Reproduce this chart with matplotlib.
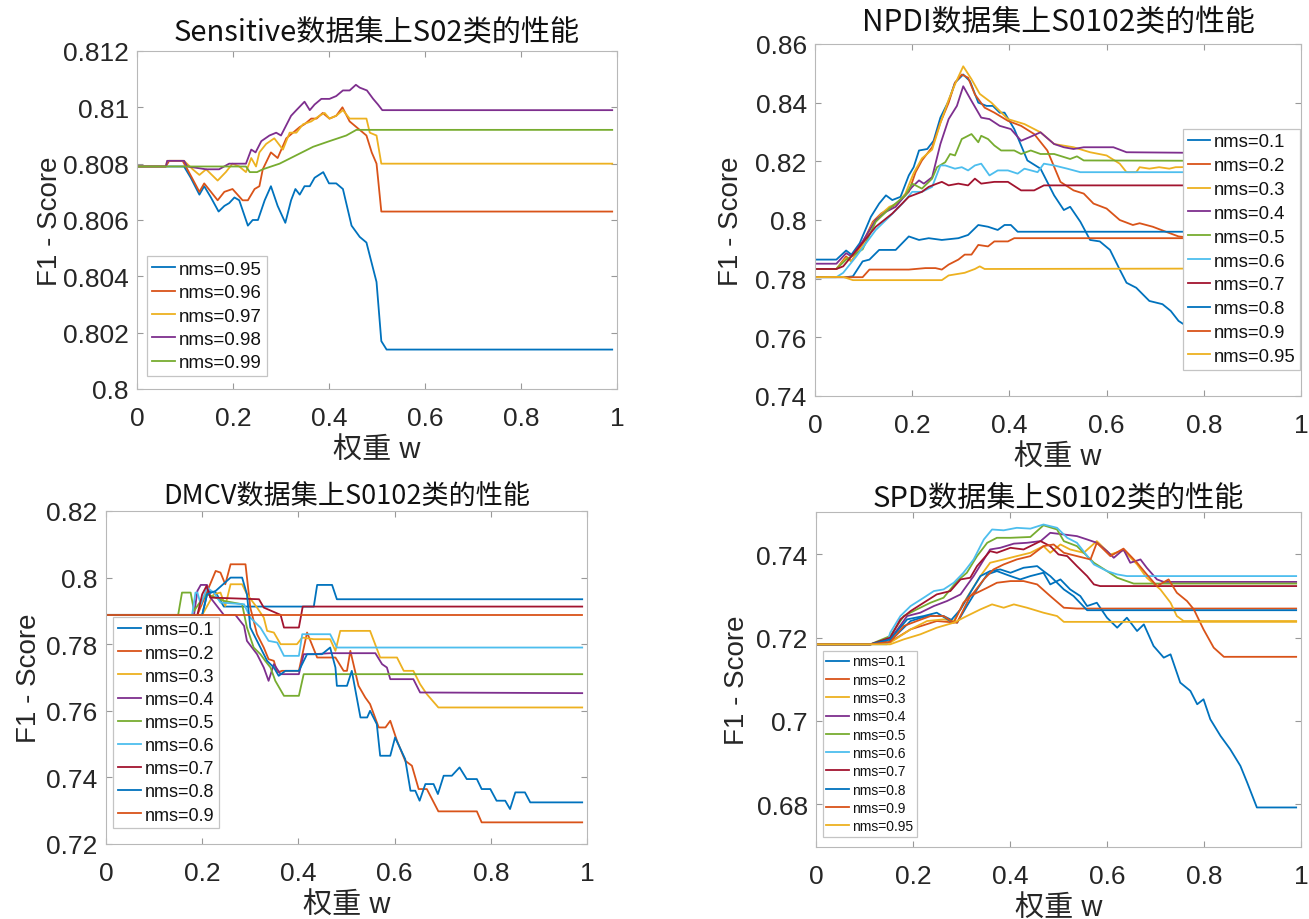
import matplotlib
matplotlib.use('Agg')
import matplotlib.pyplot as plt
from matplotlib.ticker import FuncFormatter

plt.rcParams['font.family'] = ['Liberation Sans', 'Noto Sans CJK SC']

# ---------------- data ----------------
TITLES = ['Sensitive数据集上S02类的性能', 'NPDI数据集上S0102类的性能',
          'DMCV数据集上S0102类的性能', 'SPD数据集上S0102类的性能']
XLABEL = '权重 w'
YLABEL = 'F1 - Score'
X_TICKS = [0, 0.2, 0.4, 0.6, 0.8, 1]

# --- Sensitive, S02 ---
S1_LABELS = ['nms=0.95', 'nms=0.96', 'nms=0.97', 'nms=0.98', 'nms=0.99']
S1_YTICKS = [0.8, 0.802, 0.804, 0.806, 0.808, 0.81, 0.812]
S1_095 = [(0, 0.8079), (0.098, 0.8079), (0.112, 0.8075), (0.13, 0.8069), (0.14, 0.8072), (0.154, 0.8068),
          (0.17, 0.8063), (0.182, 0.8065), (0.192, 0.8066), (0.203, 0.8068), (0.213, 0.8067), (0.231, 0.8058),
          (0.241, 0.8060), (0.252, 0.8060), (0.266, 0.8067), (0.279, 0.8072), (0.293, 0.8065), (0.309, 0.8059),
          (0.321, 0.8067), (0.33, 0.8071), (0.339, 0.8069), (0.349, 0.8072), (0.36, 0.8072), (0.37, 0.8075),
          (0.388, 0.8077), (0.40, 0.8073), (0.415, 0.8073), (0.429, 0.8071), (0.447, 0.8058), (0.464, 0.8054),
          (0.478, 0.8052), (0.499, 0.8038), (0.509, 0.8017), (0.52, 0.8014), (0.99, 0.8014)]
S1_096 = [(0, 0.8079), (0.06, 0.8079), (0.067, 0.8081), (0.095, 0.8081), (0.105, 0.8078), (0.13, 0.8070),
          (0.14, 0.8073), (0.154, 0.8070), (0.168, 0.8067), (0.182, 0.8070), (0.199, 0.8071), (0.22, 0.8067),
          (0.231, 0.8067), (0.245, 0.8071), (0.255, 0.8072), (0.262, 0.8078), (0.279, 0.8084), (0.293, 0.8082),
          (0.311, 0.8089), (0.325, 0.8091), (0.339, 0.8093), (0.349, 0.8094), (0.363, 0.8096), (0.374, 0.8096),
          (0.387, 0.8098), (0.401, 0.8096), (0.415, 0.8097), (0.428, 0.8100), (0.443, 0.8095), (0.464, 0.8092),
          (0.478, 0.8090), (0.489, 0.8084), (0.499, 0.8080), (0.502, 0.8075), (0.509, 0.8063), (0.99, 0.8063)]
S1_097 = [(0, 0.8079), (0.06, 0.8079), (0.063, 0.8081), (0.098, 0.8081), (0.116, 0.8078), (0.13, 0.8076),
          (0.144, 0.8078), (0.168, 0.8074), (0.185, 0.8077), (0.199, 0.8080), (0.213, 0.8079), (0.227, 0.8077),
          (0.238, 0.8082), (0.248, 0.8079), (0.255, 0.8084), (0.269, 0.8087), (0.286, 0.8089), (0.304, 0.8085),
          (0.318, 0.8091), (0.332, 0.8091), (0.346, 0.8094), (0.363, 0.8095), (0.38, 0.8097), (0.391, 0.8098),
          (0.401, 0.8096), (0.415, 0.8097), (0.429, 0.8099), (0.443, 0.8096), (0.478, 0.8096), (0.485, 0.8091),
          (0.499, 0.8090), (0.509, 0.8080), (0.99, 0.8080)]
S1_098 = [(0, 0.8079), (0.06, 0.8079), (0.063, 0.8081), (0.098, 0.8081), (0.105, 0.8079), (0.144, 0.8078),
          (0.171, 0.8078), (0.192, 0.8080), (0.227, 0.8080), (0.238, 0.8085), (0.247, 0.8084), (0.259, 0.8088),
          (0.276, 0.8090), (0.29, 0.8091), (0.30, 0.8090), (0.321, 0.8097), (0.332, 0.8099), (0.349, 0.8102),
          (0.36, 0.8099), (0.37, 0.8101), (0.384, 0.8103), (0.401, 0.8103), (0.415, 0.8104), (0.429, 0.8106),
          (0.443, 0.8106), (0.456, 0.8108), (0.464, 0.8107), (0.479, 0.8106), (0.492, 0.8103), (0.502, 0.8101),
          (0.511, 0.8099), (0.99, 0.8099)]
S1_099 = [(0, 0.8079), (0.227, 0.8079), (0.235, 0.8077), (0.25, 0.8077), (0.262, 0.8078), (0.297, 0.8080),
          (0.332, 0.8083), (0.367, 0.8086), (0.401, 0.8088), (0.436, 0.8090), (0.457, 0.8092), (0.99, 0.8092)]

# --- NPDI, S0102 ---
S2_LABELS = ['nms=0.1', 'nms=0.2', 'nms=0.3', 'nms=0.4', 'nms=0.5',
             'nms=0.6', 'nms=0.7', 'nms=0.8', 'nms=0.9', 'nms=0.95']
S2_YTICKS = [0.74, 0.76, 0.78, 0.8, 0.82, 0.84, 0.86]
S2_01 = [(0, 0.7865), (0.044, 0.7865), (0.064, 0.7896), (0.075, 0.7882), (0.092, 0.7921), (0.115, 0.8011),
         (0.132, 0.8056), (0.146, 0.8084), (0.159, 0.8068), (0.176, 0.8079), (0.193, 0.8152), (0.203, 0.8180),
         (0.214, 0.8237), (0.231, 0.8242), (0.244, 0.8270), (0.258, 0.8349), (0.275, 0.8406), (0.288, 0.8468),
         (0.305, 0.8496), (0.319, 0.8473), (0.336, 0.8400), (0.353, 0.8389), (0.366, 0.8389), (0.38, 0.8366),
         (0.39, 0.8366), (0.41, 0.8310), (0.437, 0.8203), (0.464, 0.8175), (0.492, 0.8084), (0.512, 0.8034),
         (0.525, 0.8045), (0.546, 0.7994), (0.566, 0.7932), (0.586, 0.7927), (0.607, 0.7898), (0.627, 0.7831),
         (0.641, 0.7786), (0.661, 0.7769), (0.688, 0.7724), (0.715, 0.7713), (0.732, 0.7690), (0.748, 0.7656),
         (0.80, 0.7600), (0.85, 0.7567), (0.99, 0.7567)]
S2_02 = [(0, 0.7833), (0.044, 0.7833), (0.064, 0.7876), (0.075, 0.7859), (0.098, 0.7921), (0.119, 0.7994),
         (0.136, 0.8022), (0.153, 0.8039), (0.169, 0.8056), (0.193, 0.8096), (0.207, 0.8163), (0.22, 0.8203),
         (0.241, 0.8248), (0.258, 0.8332), (0.275, 0.8400), (0.288, 0.8468), (0.302, 0.8496), (0.315, 0.8485),
         (0.329, 0.8428), (0.349, 0.8383), (0.369, 0.8366), (0.397, 0.8338), (0.424, 0.8321), (0.451, 0.8293),
         (0.478, 0.8237), (0.505, 0.8130), (0.532, 0.8101), (0.553, 0.8090), (0.573, 0.8056), (0.60, 0.8039),
         (0.627, 0.8000), (0.654, 0.7983), (0.668, 0.7989), (0.695, 0.7977), (0.722, 0.7960), (0.748, 0.7944),
         (0.80, 0.7935), (0.99, 0.7935)]
S2_03 = [(0, 0.7833), (0.044, 0.7833), (0.064, 0.7870), (0.075, 0.7859), (0.098, 0.7915), (0.119, 0.7989),
         (0.136, 0.8020), (0.153, 0.8045), (0.169, 0.8056), (0.186, 0.8090), (0.203, 0.8160), (0.22, 0.8210),
         (0.241, 0.8240), (0.258, 0.8330), (0.275, 0.8410), (0.29, 0.8470), (0.305, 0.8524), (0.322, 0.8480),
         (0.339, 0.8430), (0.363, 0.8400), (0.397, 0.8344), (0.431, 0.8327), (0.464, 0.8299), (0.492, 0.8259),
         (0.532, 0.8248), (0.566, 0.8231), (0.60, 0.8220), (0.627, 0.8192), (0.641, 0.8163), (0.661, 0.8163),
         (0.668, 0.8180), (0.688, 0.8175), (0.708, 0.8180), (0.729, 0.8175), (0.742, 0.8180), (0.99, 0.8184)]
S2_04 = [(0, 0.7851), (0.044, 0.7851), (0.064, 0.7887), (0.075, 0.7876), (0.098, 0.7927), (0.125, 0.8000),
         (0.146, 0.8028), (0.166, 0.8045), (0.183, 0.8079), (0.20, 0.8113), (0.214, 0.8135), (0.224, 0.8124),
         (0.241, 0.8146), (0.258, 0.8259), (0.275, 0.8344), (0.292, 0.8389), (0.305, 0.8456), (0.322, 0.8406),
         (0.342, 0.8349), (0.359, 0.8344), (0.38, 0.8321), (0.403, 0.8310), (0.424, 0.8270), (0.441, 0.8282),
         (0.464, 0.8299), (0.492, 0.8259), (0.512, 0.8248), (0.532, 0.8242), (0.553, 0.8248), (0.614, 0.8248),
         (0.641, 0.8231), (0.99, 0.8226)]
S2_05 = [(0, 0.7833), (0.044, 0.7833), (0.064, 0.7865), (0.098, 0.7900), (0.125, 0.7994), (0.153, 0.8039),
         (0.186, 0.8084), (0.20, 0.8124), (0.22, 0.8107), (0.241, 0.8141), (0.251, 0.8180), (0.268, 0.8197),
         (0.278, 0.8225), (0.288, 0.8220), (0.302, 0.8276), (0.322, 0.8293), (0.336, 0.8265), (0.342, 0.8287),
         (0.356, 0.8276), (0.369, 0.8254), (0.383, 0.8237), (0.41, 0.8237), (0.424, 0.8225), (0.444, 0.8237),
         (0.464, 0.8225), (0.492, 0.8225), (0.525, 0.8208), (0.539, 0.8217), (0.553, 0.8203), (0.99, 0.8201)]
S2_06 = [(0, 0.7805), (0.044, 0.7805), (0.058, 0.7820), (0.085, 0.7876), (0.125, 0.7966), (0.153, 0.8011),
         (0.18, 0.8056), (0.20, 0.8096), (0.22, 0.8096), (0.241, 0.8113), (0.258, 0.8186), (0.268, 0.8186),
         (0.288, 0.8175), (0.302, 0.8180), (0.315, 0.8169), (0.329, 0.8186), (0.342, 0.8192), (0.359, 0.8152),
         (0.376, 0.8169), (0.397, 0.8169), (0.417, 0.8158), (0.431, 0.8175), (0.458, 0.8163), (0.471, 0.8192),
         (0.492, 0.8186), (0.519, 0.8175), (0.546, 0.8163), (0.99, 0.8163)]
S2_07 = [(0, 0.7833), (0.044, 0.7833), (0.058, 0.7842), (0.092, 0.7910), (0.125, 0.7977), (0.159, 0.8022),
         (0.193, 0.8079), (0.22, 0.8096), (0.234, 0.8113), (0.251, 0.8124), (0.261, 0.8130), (0.275, 0.8118),
         (0.295, 0.8124), (0.315, 0.8118), (0.329, 0.8141), (0.342, 0.8124), (0.369, 0.8130), (0.397, 0.8130),
         (0.424, 0.8101), (0.451, 0.8101), (0.471, 0.8118), (0.99, 0.8118)]
S2_08 = [(0, 0.7805), (0.064, 0.7805), (0.078, 0.7808), (0.098, 0.7859), (0.112, 0.7865), (0.132, 0.7898),
         (0.166, 0.7898), (0.193, 0.7944), (0.214, 0.7932), (0.234, 0.7938), (0.261, 0.7932), (0.295, 0.7938),
         (0.315, 0.7949), (0.336, 0.7983), (0.356, 0.7977), (0.376, 0.7966), (0.39, 0.7983), (0.403, 0.7983),
         (0.417, 0.7960), (0.99, 0.7960)]
S2_09 = [(0, 0.7805), (0.098, 0.7805), (0.112, 0.7831), (0.193, 0.7831), (0.227, 0.7836), (0.248, 0.7836),
         (0.261, 0.7831), (0.275, 0.7848), (0.295, 0.7865), (0.308, 0.7882), (0.322, 0.7882), (0.336, 0.7915),
         (0.356, 0.7910), (0.369, 0.7927), (0.397, 0.7927), (0.41, 0.7938), (0.99, 0.7938)]
S2_095 = [(0, 0.7805), (0.058, 0.7806), (0.078, 0.7795), (0.261, 0.7795), (0.275, 0.7811), (0.308, 0.7820),
          (0.329, 0.7833), (0.339, 0.7842), (0.349, 0.7833), (0.99, 0.7835)]

# --- DMCV, S0102 ---
S3_LABELS = ['nms=0.1', 'nms=0.2', 'nms=0.3', 'nms=0.4', 'nms=0.5',
             'nms=0.6', 'nms=0.7', 'nms=0.8', 'nms=0.9']
S3_YTICKS = [0.72, 0.74, 0.76, 0.78, 0.8, 0.82]
S3_01 = [(0, 0.7888), (0.20, 0.7888), (0.212, 0.7960), (0.228, 0.7955), (0.245, 0.7913), (0.432, 0.7913),
         (0.439, 0.7978), (0.47, 0.7978), (0.48, 0.7935), (0.99, 0.7935)]
S3_02 = [(0, 0.7888), (0.19, 0.7888), (0.228, 0.8020), (0.238, 0.8015), (0.248, 0.7980), (0.259, 0.8040),
         (0.29, 0.8040), (0.30, 0.7910), (0.314, 0.7830), (0.328, 0.7790), (0.338, 0.7755), (0.349, 0.7750),
         (0.356, 0.7715), (0.366, 0.7720), (0.401, 0.7720), (0.418, 0.7835), (0.439, 0.7760), (0.477, 0.7760),
         (0.494, 0.7720), (0.501, 0.7720), (0.508, 0.7780), (0.525, 0.7675), (0.539, 0.7640), (0.549, 0.7620),
         (0.567, 0.7550), (0.581, 0.7550), (0.591, 0.7570), (0.605, 0.7510), (0.622, 0.7450), (0.636, 0.7435),
         (0.65, 0.7365), (0.667, 0.7365), (0.691, 0.7298), (0.771, 0.7298), (0.781, 0.7265), (0.99, 0.7265)]
S3_03 = [(0, 0.7888), (0.20, 0.7888), (0.224, 0.7950), (0.238, 0.7955), (0.248, 0.7915), (0.259, 0.7980),
         (0.283, 0.7980), (0.293, 0.7950), (0.314, 0.7910), (0.328, 0.7880), (0.335, 0.7840), (0.349, 0.7835),
         (0.363, 0.7800), (0.397, 0.7800), (0.408, 0.7820), (0.432, 0.7815), (0.466, 0.7815), (0.477, 0.7780),
         (0.487, 0.7840), (0.549, 0.7840), (0.57, 0.7760), (0.605, 0.7760), (0.619, 0.7720), (0.639, 0.7720),
         (0.653, 0.7680), (0.667, 0.7650), (0.691, 0.7610), (0.99, 0.7610)]
S3_04 = [(0, 0.7888), (0.183, 0.7888), (0.19, 0.7960), (0.197, 0.7978), (0.21, 0.7978), (0.217, 0.7940),
         (0.245, 0.7888), (0.269, 0.7888), (0.287, 0.7855), (0.293, 0.7810), (0.314, 0.7770), (0.328, 0.7730),
         (0.338, 0.7690), (0.349, 0.7740), (0.363, 0.7710), (0.401, 0.7710), (0.411, 0.7770), (0.432, 0.7770),
         (0.466, 0.7773), (0.56, 0.7773), (0.574, 0.7740), (0.584, 0.7730), (0.591, 0.7695), (0.639, 0.7695),
         (0.653, 0.7655), (0.99, 0.7653)]
S3_05 = [(0, 0.7888), (0.15, 0.7888), (0.158, 0.7955), (0.176, 0.7955), (0.183, 0.7900), (0.197, 0.7930),
         (0.21, 0.7950), (0.245, 0.7930), (0.283, 0.7920), (0.293, 0.7850), (0.307, 0.7790), (0.321, 0.7770),
         (0.331, 0.7750), (0.342, 0.7730), (0.352, 0.7690), (0.37, 0.7645), (0.401, 0.7645), (0.411, 0.7710),
         (0.99, 0.7710)]
S3_06 = [(0, 0.7888), (0.179, 0.7888), (0.186, 0.7955), (0.19, 0.7955), (0.197, 0.7920), (0.21, 0.7970),
         (0.224, 0.7955), (0.238, 0.7925), (0.287, 0.7920), (0.30, 0.7880), (0.321, 0.7850), (0.338, 0.7810),
         (0.356, 0.7805), (0.37, 0.7765), (0.401, 0.7765), (0.408, 0.7830), (0.466, 0.7830), (0.48, 0.7790),
         (0.99, 0.7790)]
S3_07 = [(0, 0.7888), (0.19, 0.7888), (0.20, 0.7950), (0.209, 0.7975), (0.217, 0.7940), (0.318, 0.7935),
         (0.328, 0.7910), (0.363, 0.7888), (0.37, 0.7850), (0.401, 0.7850), (0.409, 0.7913), (0.99, 0.7913)]
S3_08 = [(0, 0.7888), (0.20, 0.7888), (0.21, 0.7950), (0.228, 0.7960), (0.259, 0.8000), (0.283, 0.8000),
         (0.293, 0.7950), (0.30, 0.7850), (0.314, 0.7810), (0.335, 0.7750), (0.349, 0.7730), (0.359, 0.7705),
         (0.373, 0.7720), (0.401, 0.7720), (0.418, 0.7770), (0.449, 0.7770), (0.466, 0.7790), (0.477, 0.7730),
         (0.48, 0.7675), (0.501, 0.7675), (0.511, 0.7720), (0.529, 0.7580), (0.543, 0.7580), (0.549, 0.7600),
         (0.563, 0.7560), (0.57, 0.7465), (0.591, 0.7465), (0.601, 0.7520), (0.622, 0.7455), (0.633, 0.7360),
         (0.643, 0.7360), (0.652, 0.7330), (0.664, 0.7380), (0.681, 0.7380), (0.69, 0.7350), (0.702, 0.7405),
         (0.719, 0.7405), (0.735, 0.7430), (0.75, 0.7395), (0.771, 0.7395), (0.781, 0.7365), (0.799, 0.7365),
         (0.812, 0.7330), (0.83, 0.7330), (0.84, 0.7305), (0.851, 0.7355), (0.871, 0.7355), (0.882, 0.7325),
         (0.99, 0.7325)]
S3_09 = [(0, 0.7888), (0.99, 0.7888)]

# --- SPD, S0102 ---
S4_LABELS = ['nms=0.1', 'nms=0.2', 'nms=0.3', 'nms=0.4', 'nms=0.5',
             'nms=0.6', 'nms=0.7', 'nms=0.8', 'nms=0.9', 'nms=0.95']
S4_YTICKS = [0.68, 0.7, 0.72, 0.74]
S4_01 = [(0, 0.7184), (0.112, 0.7184), (0.153, 0.7192), (0.195, 0.7240), (0.229, 0.7252), (0.263, 0.7252),
         (0.291, 0.7236), (0.311, 0.7276), (0.332, 0.7316), (0.353, 0.7352), (0.373, 0.7360), (0.401, 0.7348),
         (0.421, 0.7340), (0.442, 0.7348), (0.469, 0.7356), (0.483, 0.7328), (0.504, 0.7340), (0.524, 0.7316),
         (0.545, 0.7300), (0.559, 0.7276), (0.579, 0.7284), (0.60, 0.7248), (0.621, 0.7224), (0.641, 0.7248),
         (0.662, 0.7216), (0.676, 0.7232), (0.696, 0.7180), (0.717, 0.7152), (0.731, 0.7160), (0.751, 0.7092),
         (0.772, 0.7072), (0.786, 0.7040), (0.799, 0.7052), (0.813, 0.7004), (0.834, 0.6964), (0.854, 0.6932),
         (0.875, 0.6892), (0.889, 0.6852), (0.909, 0.6792), (0.99, 0.6792)]
S4_02 = [(0, 0.7184), (0.112, 0.7184), (0.153, 0.7190), (0.195, 0.7220), (0.249, 0.7240), (0.291, 0.7236),
         (0.318, 0.7300), (0.353, 0.7320), (0.373, 0.7332), (0.401, 0.7336), (0.428, 0.7336), (0.456, 0.7328),
         (0.483, 0.7300), (0.511, 0.7272), (0.538, 0.7270), (0.99, 0.7270)]
S4_03 = [(0, 0.7184), (0.112, 0.7184), (0.153, 0.7188), (0.195, 0.7220), (0.229, 0.7240), (0.263, 0.7244),
         (0.284, 0.7240), (0.311, 0.7296), (0.339, 0.7348), (0.359, 0.7380), (0.387, 0.7388), (0.414, 0.7396),
         (0.442, 0.7404), (0.469, 0.7420), (0.483, 0.7404), (0.504, 0.7424), (0.524, 0.7412), (0.552, 0.7404),
         (0.579, 0.7432), (0.607, 0.7400), (0.634, 0.7410), (0.662, 0.7376), (0.682, 0.7344), (0.71, 0.7316),
         (0.731, 0.7284), (0.744, 0.7252), (0.758, 0.7240), (0.99, 0.7240)]
S4_04 = [(0, 0.7184), (0.112, 0.7184), (0.153, 0.7196), (0.188, 0.7252), (0.215, 0.7260), (0.243, 0.7276),
         (0.27, 0.7288), (0.298, 0.7304), (0.325, 0.7348), (0.359, 0.7412), (0.38, 0.7416), (0.408, 0.7426),
         (0.435, 0.7428), (0.463, 0.7432), (0.483, 0.7452), (0.511, 0.7448), (0.538, 0.7444), (0.559, 0.7436),
         (0.579, 0.7428), (0.60, 0.7408), (0.614, 0.7392), (0.634, 0.7412), (0.648, 0.7380), (0.669, 0.7388),
         (0.682, 0.7368), (0.703, 0.7340), (0.717, 0.7334), (0.99, 0.7334)]
S4_05 = [(0, 0.7184), (0.112, 0.7184), (0.153, 0.7204), (0.181, 0.7252), (0.208, 0.7268), (0.236, 0.7284),
         (0.263, 0.7296), (0.291, 0.7336), (0.311, 0.7356), (0.332, 0.7396), (0.353, 0.7428), (0.373, 0.7440),
         (0.401, 0.7440), (0.442, 0.7442), (0.469, 0.7470), (0.497, 0.7460), (0.511, 0.7432), (0.538, 0.7420),
         (0.573, 0.7380), (0.60, 0.7360), (0.621, 0.7344), (0.655, 0.7330), (0.99, 0.7330)]
S4_06 = [(0, 0.7184), (0.146, 0.7184), (0.153, 0.7212), (0.174, 0.7252), (0.195, 0.7276), (0.222, 0.7296),
         (0.243, 0.7312), (0.263, 0.7316), (0.284, 0.7332), (0.304, 0.7356), (0.325, 0.7388), (0.346, 0.7436),
         (0.363, 0.7460), (0.387, 0.7458), (0.414, 0.7464), (0.442, 0.7462), (0.469, 0.7472), (0.497, 0.7464),
         (0.518, 0.7440), (0.538, 0.7428), (0.573, 0.7376), (0.60, 0.7360), (0.621, 0.7352), (0.641, 0.7348),
         (0.99, 0.7348)]
S4_07 = [(0, 0.7184), (0.112, 0.7184), (0.153, 0.7200), (0.174, 0.7244), (0.195, 0.7264), (0.222, 0.7284),
         (0.249, 0.7304), (0.277, 0.7312), (0.298, 0.7340), (0.318, 0.7344), (0.332, 0.7372), (0.359, 0.7408),
         (0.373, 0.7404), (0.401, 0.7416), (0.428, 0.7412), (0.463, 0.7432), (0.483, 0.7420), (0.50, 0.7400),
         (0.518, 0.7396), (0.538, 0.7372), (0.559, 0.7348), (0.573, 0.7328), (0.586, 0.7324), (0.99, 0.7324)]
S4_08 = [(0, 0.7184), (0.112, 0.7184), (0.153, 0.7196), (0.188, 0.7244), (0.222, 0.7252), (0.249, 0.7260),
         (0.277, 0.7240), (0.298, 0.7268), (0.318, 0.7308), (0.339, 0.7348), (0.359, 0.7360), (0.38, 0.7364),
         (0.401, 0.7356), (0.428, 0.7368), (0.456, 0.7372), (0.469, 0.7360), (0.483, 0.7348), (0.511, 0.7316),
         (0.531, 0.7300), (0.559, 0.7266), (0.99, 0.7266)]
S4_09 = [(0, 0.7184), (0.112, 0.7184), (0.153, 0.7190), (0.181, 0.7228), (0.208, 0.7240), (0.236, 0.7252),
         (0.263, 0.7252), (0.284, 0.7236), (0.304, 0.7284), (0.325, 0.7308), (0.346, 0.7340), (0.366, 0.7364),
         (0.387, 0.7376), (0.414, 0.7388), (0.442, 0.7396), (0.469, 0.7420), (0.49, 0.7424), (0.511, 0.7404),
         (0.538, 0.7396), (0.566, 0.7388), (0.579, 0.7428), (0.607, 0.7396), (0.634, 0.7414), (0.662, 0.7380),
         (0.682, 0.7352), (0.703, 0.7324), (0.727, 0.7340), (0.744, 0.7308), (0.765, 0.7288), (0.779, 0.7268),
         (0.799, 0.7220), (0.82, 0.7176), (0.841, 0.7154), (0.99, 0.7154)]
S4_095 = [(0, 0.7184), (0.153, 0.7184), (0.181, 0.7196), (0.215, 0.7208), (0.249, 0.7224), (0.284, 0.7236),
          (0.311, 0.7252), (0.339, 0.7268), (0.363, 0.7280), (0.387, 0.7272), (0.408, 0.7280), (0.435, 0.7272),
          (0.469, 0.7260), (0.497, 0.7252), (0.511, 0.7238), (0.99, 0.7238)]

# ---------------- style ----------------
COLORS = ['#0072BD', '#D95319', '#EDB120', '#7E2F8E', '#77AC30', '#4DBEEE', '#A2142F']
TXT = '#262626'
SPINE = '#b8b8b8'
LATIN_CJK = ['Liberation Sans', 'Noto Sans CJK SC']
CJK_FIRST = ['Noto Sans CJK SC', 'Liberation Sans']

W, H = 1309, 920
fig = plt.figure(figsize=(W / 100, H / 100), dpi=100)
fig.patch.set_facecolor('white')


def make_axes(left, top, right, bottom):
    return fig.add_axes([left / W, 1 - bottom / H, (right - left) / W, (bottom - top) / H])


panels = [
    dict(box=(137, 52, 617, 390), series=[S1_095, S1_096, S1_097, S1_098, S1_099], labels=S1_LABELS,
         ylim=(0.8, 0.812), yticks=S1_YTICKS, title_size=21, title_pad=8, ylab_x=-0.155,
         leg=(0.021, 0.393), leg_size=13.5, leg_space=0.33, leg_hl=1.25),
    dict(box=(815, 45, 1301, 397), series=[S2_01, S2_02, S2_03, S2_04, S2_05, S2_06, S2_07, S2_08, S2_09, S2_095],
         labels=S2_LABELS, ylim=(0.74, 0.86), yticks=S2_YTICKS, title_size=21.5, title_pad=10, ylab_x=-0.147,
         leg=(0.757, 0.759), leg_size=13.3, leg_space=0.37, leg_hl=1.2),
    dict(box=(106, 512, 587, 845), series=[S3_01, S3_02, S3_03, S3_04, S3_05, S3_06, S3_07, S3_08, S3_09],
         labels=S3_LABELS, ylim=(0.72, 0.82), yticks=S3_YTICKS, title_size=19.5, title_pad=6, ylab_x=-0.133,
         leg=(0.015, 0.682), leg_size=13, leg_space=0.34, leg_hl=1.3),
    dict(box=(816, 513, 1301, 848), series=[S4_01, S4_02, S4_03, S4_04, S4_05, S4_06, S4_07, S4_08, S4_09, S4_095],
         labels=S4_LABELS, ylim=(0.6697, 0.7502), yticks=S4_YTICKS, title_size=21, title_pad=5, ylab_x=-0.136,
         leg=(0.014, 0.585), leg_size=10, leg_space=0.31, leg_hl=1.65),
]

fmt = FuncFormatter(lambda v, _: f'{v:g}')

for p, title in zip(panels, TITLES):
    ax = make_axes(*p['box'])
    for i, (s, lab) in enumerate(zip(p['series'], p['labels'])):
        xs = [a for a, _ in s]
        ys = [b for _, b in s]
        ax.plot(xs, ys, color=COLORS[i % len(COLORS)], lw=1.3, label=lab)
    ax.set_xlim(0, 1)
    ax.set_ylim(*p['ylim'])
    ax.set_xticks(X_TICKS)
    ax.set_yticks(p['yticks'])
    ax.xaxis.set_major_formatter(fmt)
    ax.yaxis.set_major_formatter(fmt)
    ax.tick_params(axis='both', direction='in', length=4, width=0.8, color='#999999',
                   labelcolor=TXT, labelsize=19, top=True, right=True)
    ax.tick_params(axis='x', pad=12)
    ax.tick_params(axis='y', pad=6)
    for sp in ax.spines.values():
        sp.set_color(SPINE)
        sp.set_linewidth(0.8)
    ax.set_title(title, fontsize=p['title_size'], color='#111111', pad=p['title_pad'],
                 family=CJK_FIRST, fontweight='medium')
    ax.set_xlabel(XLABEL, fontsize=21, color=TXT, family=LATIN_CJK, labelpad=4)
    ax.set_ylabel(YLABEL, fontsize=20, color=TXT, family=LATIN_CJK)
    ax.yaxis.set_label_coords(p['ylab_x'], 0.5)
    leg = ax.legend(loc='upper left', bbox_to_anchor=p['leg'], borderaxespad=0,
                    fontsize=p['leg_size'], labelspacing=p['leg_space'], handlelength=p['leg_hl'],
                    handletextpad=0.2, borderpad=0.25, fancybox=False, framealpha=1,
                    edgecolor='#c4c4c4')
    leg.get_frame().set_linewidth(0.9)
    for t in leg.get_texts():
        t.set_color('#111111')

fig.savefig('out.png', dpi=100, facecolor='white')
